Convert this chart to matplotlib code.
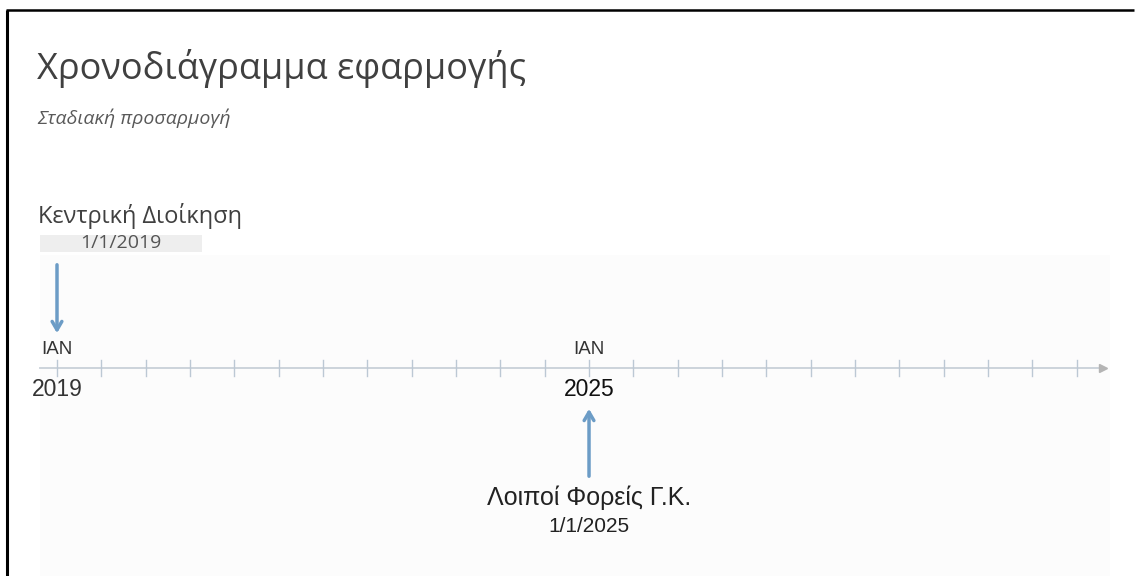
import matplotlib.pyplot as plt
from matplotlib.lines import Line2D
from matplotlib.patches import Rectangle

# milestones on the timeline
event_labels = ["Κεντρική Διοίκηση", "Λοιποί Φορείς Γ.Κ."]
event_dates = ["1/1/2019", "1/1/2025"]
event_years = [2019.0, 2025.0]
month_label = "IAN"

# half-year ticks along the axis
tick_start = 2019.0
tick_step = 0.5
tick_count = 24

title = "Χρονοδιάγραμμα εφαρμογής"
subtitle = "Σταδιακή προσαρμογή"

W, H = 1137, 576
px_per_year = 88.67
x0 = 2019.0 - 57 / px_per_year
x1 = x0 + W / px_per_year

fig = plt.figure(figsize=(W / 100, H / 100), dpi=100)
ax = fig.add_axes([0, 0, 1, 1])
ax.set_xlim(x0, x1)
ax.set_ylim(H, 0)  # y runs in pixels from the top
ax.axis("off")

def px(xp):
    return x0 + xp / px_per_year

greek = ["Open Sans", "DejaVu Sans"]
plain = ["Liberation Sans", "DejaVu Sans"]

# faint panel behind the timeline
ax.add_patch(Rectangle((px(40), 255), px(1110) - px(40), 330,
                       facecolor="#fcfcfc", edgecolor="none", zorder=0))

# frame lines at top and left
fig.add_artist(Line2D([6 / W, 1134 / W], [1 - 10 / H, 1 - 10 / H], color="black",
                      lw=1.8, solid_capstyle="butt"))
fig.add_artist(Line2D([7 / W, 7 / W], [0, 1 - 10 / H], color="black", lw=2.2,
                      solid_capstyle="butt"))

ax.text(px(37), 68, title, fontsize=26, color="#404040", family=greek, va="center")
ax.text(px(37), 118, subtitle, fontsize=14, color="#595959", style="italic",
        family=greek, va="center")

# main axis with arrow head
axis_y = 368
ax.plot([px(40), px(1100)], [axis_y, axis_y], color="#c8d0d8", lw=1.3, zorder=2)
ax.plot([px(1103)], [axis_y], marker=">", color="#b4b4b4", markersize=6, zorder=3)

ticks = [tick_start + i * tick_step for i in range(tick_count)]
for t in ticks:
    ax.plot([t, t], [axis_y - 8, axis_y + 8], color="#bcc8d4", lw=1, zorder=2)

blue = "#6c9cc6"

# first milestone: label above, arrow down
e0 = event_years[0]
ax.text(px(38), 216, event_labels[0], fontsize=17, color="#404040", family=greek,
        va="center")
ax.add_patch(Rectangle((px(40), 235), px(202) - px(40), 17,
                       facecolor="#eeeeee", edgecolor="none", zorder=1))
ax.text(px(121), 243, event_dates[0], fontsize=14, color="#555555", family=greek,
        ha="center", va="center", zorder=2)
ax.annotate("", xy=(e0, 336), xytext=(e0, 262),
            arrowprops=dict(arrowstyle="->,head_length=0.6,head_width=0.35",
                            color=blue, lw=2.5))

# second milestone: label below, arrow up
e1 = event_years[1]
ax.annotate("", xy=(e1, 406), xytext=(e1, 479),
            arrowprops=dict(arrowstyle="->,head_length=0.6,head_width=0.35",
                            color=blue, lw=2.5))
ax.text(e1, 498, event_labels[1], fontsize=18, color="#222222", family=plain,
        ha="center", va="center")
ax.text(e1, 526, event_dates[1], fontsize=15, color="#222222", family=plain,
        ha="center", va="center")

# month and year marks at each milestone
for yr, col in zip(event_years, ["#333333", "#111111"]):
    ax.text(yr, 349, month_label, fontsize=13.5, color="#333333", family=plain,
            ha="center", va="center")
    ax.text(yr, 390, str(int(yr)), fontsize=16.5, color=col, family=plain,
            ha="center", va="center")

fig.savefig("out.png", dpi=100, facecolor="white")
